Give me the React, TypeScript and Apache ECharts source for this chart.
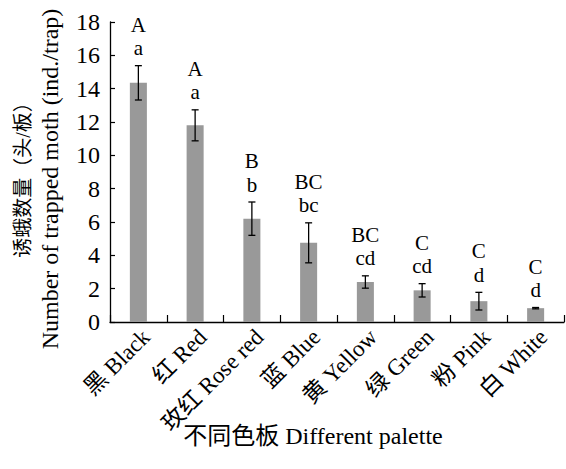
import React, { useEffect, useRef } from "react";
import * as echarts from "echarts";

// Trap colours and mean catches with their error bars
const categories = ["黑 Black", "红 Red", "玫红 Rose red", "蓝 Blue", "黄 Yellow", "绿 Green", "粉 Pink", "白 White"];
const means = [14.35, 11.8, 6.2, 4.75, 2.4, 1.9, 1.25, 0.83];
const errors = [1.03, 0.93, 1.0, 1.2, 0.37, 0.4, 0.53, 0.04];
// Significance letters (upper: P<0.01, lower: P<0.05)
const upperLetters = ["A", "A", "B", "BC", "BC", "C", "C", "C"];
const lowerLetters = ["a", "a", "b", "bc", "cd", "cd", "d", "d"];
const yTicks = { min: 0, max: 18, interval: 2 };

const SERIF = "Liberation Serif, Noto Sans CJK SC, serif";

export default function App() {
  const ref = useRef<HTMLDivElement>(null);

  useEffect(() => {
    if (!ref.current) return;
    const chart = echarts.init(ref.current, null, { renderer: "svg" });

    const letter = (text: string, x: number, y: number) => ({
      type: "text",
      style: {
        text,
        x,
        y,
        align: "center",
        verticalAlign: "middle",
        fontSize: 21,
        fontFamily: SERIF,
        fill: "#000",
      },
    });

    const option = {
      animation: false,
      backgroundColor: "#ffffff",
      textStyle: { fontFamily: SERIF },
      grid: { left: 110, right: 2, top: 22, bottom: 147, containLabel: false },
      xAxis: {
        type: "category",
        data: categories,
        boundaryGap: true,
        axisLine: { lineStyle: { color: "#000", width: 1.3 } },
        axisTick: { show: true, inside: true, length: 7, alignWithLabel: false, lineStyle: { color: "#000", width: 1.2 } },
        axisLabel: {
          interval: 0,
          rotate: 45,
          margin: 19,
          padding: [0, -11, 0, 0],
          color: "#000",
          fontSize: 23,
          fontFamily: SERIF,
        },
        splitLine: { show: false },
      },
      yAxis: {
        type: "value",
        min: yTicks.min,
        max: yTicks.max,
        interval: yTicks.interval,
        axisLine: { show: true, lineStyle: { color: "#000", width: 1.3 } },
        axisTick: { show: true, inside: true, length: 5, lineStyle: { color: "#000", width: 1.2 } },
        axisLabel: { margin: 10, color: "#000", fontSize: 24, fontFamily: SERIF },
        splitLine: { show: false },
      },
      series: [
        {
          type: "bar",
          data: means,
          barWidth: "30%",
          itemStyle: { color: "#999999" },
        },
        {
          type: "custom",
          data: categories.map((_, i) => [i, means[i], errors[i]]),
          z: 5,
          renderItem: (params: any, api: any) => {
            const i = api.value(0);
            const m = api.value(1);
            const e = api.value(2);
            const top = api.coord([i, m + e]);
            const bot = api.coord([i, m - e]);
            const cap = 3.5;
            const ls = { stroke: "#000", lineWidth: 1.3 };
            const idx = params.dataIndex;
            return {
              type: "group",
              children: [
                { type: "line", shape: { x1: top[0], y1: top[1], x2: bot[0], y2: bot[1] }, style: ls },
                { type: "line", shape: { x1: top[0] - cap, y1: top[1], x2: top[0] + cap, y2: top[1] }, style: ls },
                { type: "line", shape: { x1: bot[0] - cap, y1: bot[1], x2: bot[0] + cap, y2: bot[1] }, style: ls },
                letter(lowerLetters[idx], top[0], top[1] - 17.5),
                letter(upperLetters[idx], top[0], top[1] - 41),
              ],
            };
          },
        },
      ],
      graphic: [
        {
          type: "text",
          x: 22.5,
          y: 175,
          rotation: Math.PI / 2,
          style: {
            text: "诱蛾数量（头/板）",
            align: "center",
            verticalAlign: "middle",
            fontSize: 20,
            fontFamily: SERIF,
            fill: "#000",
          },
        },
        {
          type: "text",
          x: 49.5,
          y: 179,
          rotation: Math.PI / 2,
          style: {
            text: "Number of trapped moth (ind./trap)",
            align: "center",
            verticalAlign: "middle",
            fontSize: 24,
            fontFamily: SERIF,
            fill: "#000",
          },
        },
        {
          type: "text",
          x: 313,
          y: 436,
          style: {
            text: "不同色板 Different palette",
            align: "center",
            verticalAlign: "middle",
            fontSize: 24,
            fontFamily: SERIF,
            fill: "#000",
          },
        },
      ],
    };

    chart.setOption(option as any);
    return () => chart.dispose();
  }, []);

  return (
    <div
      ref={ref}
      style={{ position: "fixed", left: 0, top: 0, width: 566, height: 469, background: "#fff" }}
    />
  );
}
